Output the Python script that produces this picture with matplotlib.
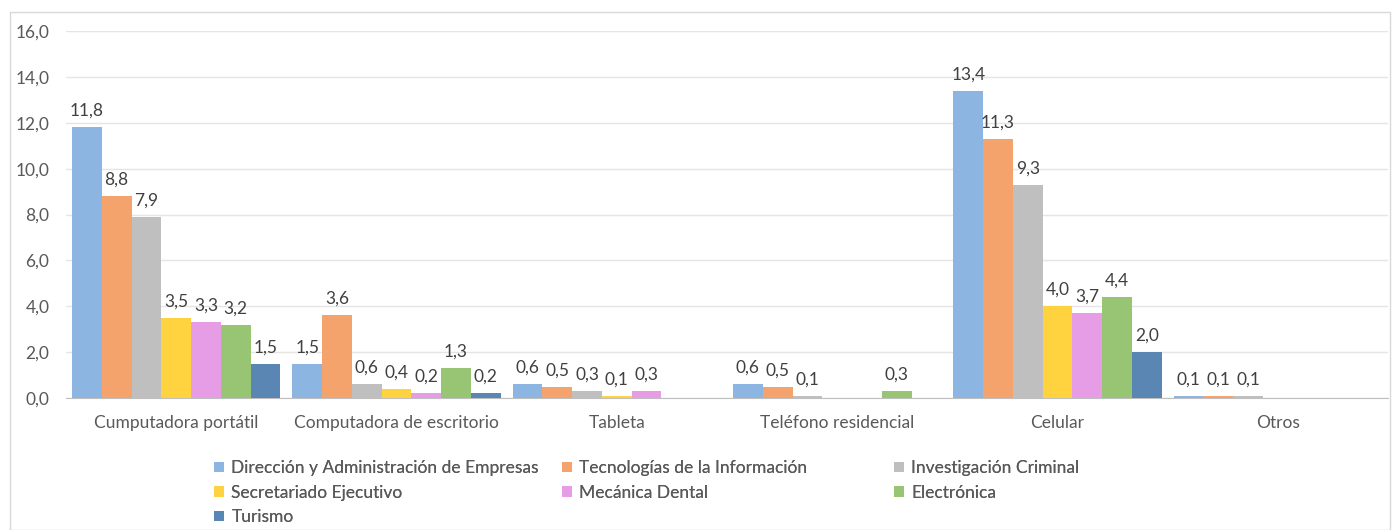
import numpy as np
import matplotlib.pyplot as plt
from matplotlib.patches import Rectangle

categories = ["Cumputadora portátil", "Computadora de escritorio", "Tableta",
              "Teléfono residencial", "Celular", "Otros"]
series_names = ["Dirección y Administración de Empresas", "Tecnologías de la Información",
                "Investigación Criminal", "Secretariado Ejecutivo", "Mecánica Dental",
                "Electrónica", "Turismo"]
nan = np.nan
direccion = [11.8, 1.5, 0.6, 0.6, 13.4, 0.1]
tecnologias = [8.8, 3.6, 0.5, 0.5, 11.3, 0.1]
investigacion = [7.9, 0.6, 0.3, 0.1, 9.3, 0.1]
secretariado = [3.5, 0.4, 0.1, nan, 4.0, nan]
mecanica = [3.3, 0.2, 0.3, nan, 3.7, nan]
electronica = [3.2, 1.3, nan, 0.3, 4.4, nan]
turismo = [1.5, 0.2, nan, nan, 2.0, nan]
series = [direccion, tecnologias, investigacion, secretariado, mecanica, electronica, turismo]
colors = ["#8DB5E2", "#F3A36B", "#BFBFBF", "#FFD23F", "#E79CE6", "#97C574", "#5A86B3"]
yticks = [0, 2, 4, 6, 8, 10, 12, 14, 16]

plt.rcParams['font.family'] = ['Lato', 'DejaVu Sans']
txt = "#595959"
fs = 12.5

fig = plt.figure(figsize=(13.92, 5.30), dpi=100)
fig.patches.append(Rectangle((10/1392, 0), 1380/1392, 1 - 12/530, transform=fig.transFigure,
                             fill=False, edgecolor="#D9D9D9", linewidth=1))
ax = fig.add_axes([66/1392, 1 - 398/530, (1388 - 66)/1392, (398 - 31)/530])

n = len(series)
x = np.arange(len(categories))
w = 0.135
handles = []
for i, (vals, name, c) in enumerate(zip(series, series_names, colors)):
    pos = x - (n - 1) / 2 * w + i * w
    bars = ax.bar(pos, vals, width=w, color=c, label=name, zorder=3)
    handles.append(bars)
    labels = ["" if np.isnan(v) else f"{v:.1f}".replace(".", ",") for v in vals]
    ax.bar_label(bars, labels=labels, padding=6, fontsize=fs, color="#404040")

ax.set_xlim(-0.5, len(categories) - 0.5)
ax.set_ylim(0, 16)
ax.set_yticks(yticks)
ax.set_yticklabels([f"{t:.1f}".replace(".", ",") for t in yticks])
ax.set_xticks(x)
ax.set_xticklabels(categories)
ax.tick_params(axis='both', length=0, labelsize=fs, labelcolor=txt)
ax.tick_params(axis='x', pad=12)
ax.tick_params(axis='y', pad=12)
ax.grid(axis='y', color="#E5E5E5", linewidth=1, zorder=0)
for s in ["top", "right", "left"]:
    ax.spines[s].set_visible(False)
ax.spines["bottom"].set_color("#BFBFBF")

columns = [([0, 3, 6], 214), ([1, 4], 562), ([2, 5], 894)]
for idxs, xpix in columns:
    leg = fig.legend([handles[k] for k in idxs], [series_names[k] for k in idxs],
                     loc="upper left", bbox_to_anchor=(xpix/1392, 1 - 460/530), ncol=1,
                     frameon=False, fontsize=fs, labelcolor=txt, handlelength=0.55,
                     handleheight=0.55, handletextpad=0.45, labelspacing=0.5,
                     borderaxespad=0, borderpad=0)
    fig.add_artist(leg)

fig.savefig("out.png", dpi=100)
